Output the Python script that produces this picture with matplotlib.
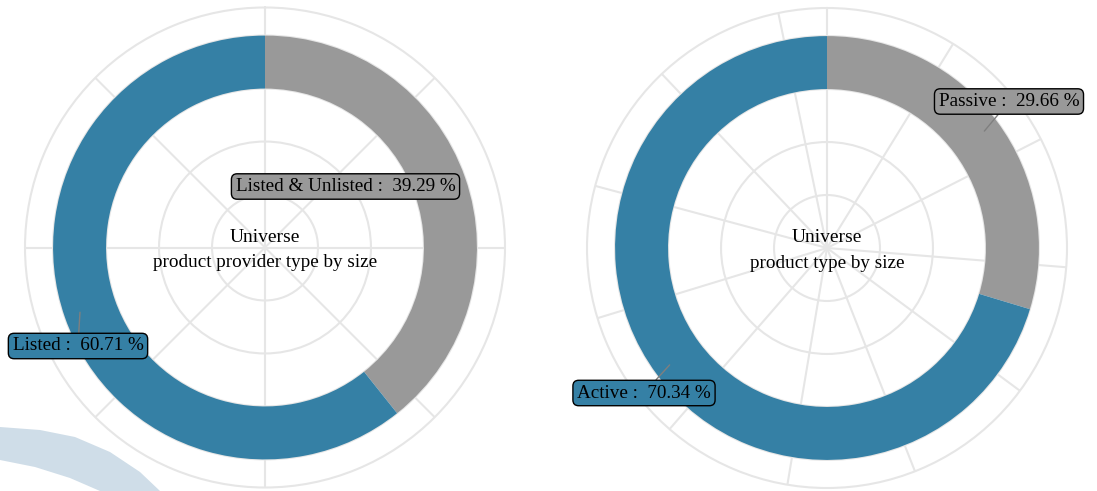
import numpy as np
import matplotlib
matplotlib.use("Agg")
import matplotlib.pyplot as plt
from matplotlib.patches import Polygon

# ---- data ----
left_labels = ["Listed & Unlisted", "Listed"]
left_values = [39.29, 60.71]
left_title = ["Universe", "product provider type by size"]

right_labels = ["Passive", "Active"]
right_values = [29.66, 70.34]
right_title = ["Universe", "product type by size"]

seg_colors = ["#999999", "#3580a5"]

left_theta_grid = [0, 45, 90, 135, 180, 225, 270, 315]
right_theta_grid = [0, 31.7, 63, 94.6, 126.5, 158.5, 189.5, 221, 253, 285, 316.5, 348.3]

W, H = 1097, 491
plt.rcParams["font.family"] = ["Liberation Serif", "DejaVu Serif"]
fig = plt.figure(figsize=(W / 100, H / 100), dpi=100)

# decorative background swoosh (bottom-left)
top_edge = [(0, 427), (40, 430), (75, 437), (110, 452), (140, 472), (160, 491)]
bot_edge = [(100, 491), (70, 478), (35, 467), (0, 460)]
pts = [(x / W, 1 - y / H) for x, y in top_edge + bot_edge]
fig.patches.append(Polygon(pts, closed=True, transform=fig.transFigure,
                           facecolor="#cfdde8", edgecolor="none", zorder=0))

GRID = "#e6e6e6"


def donut(rect, labels, values, title, theta_grid, label_pos):
    ax = fig.add_axes(rect, projection="polar")
    ax.set_facecolor("none")
    ax.set_theta_zero_location("N")
    ax.set_theta_direction(-1)
    ax.set_axisbelow(True)
    total = sum(values)
    start = 0.0
    for lab, val, col, pos in zip(labels, values, seg_colors, label_pos):
        width = val / total * 2 * np.pi
        ax.bar(start, 1.0, width=width, bottom=3.0, align="edge",
               color=col, edgecolor="none", linewidth=0)
        mid = start + width / 2
        ax.annotate(f"{lab} :  {val:.2f} %", xy=(mid, 3.7), xycoords="data",
                    xytext=(pos[0] / W, 1 - pos[1] / H), textcoords="figure fraction",
                    ha="center", va="center", fontsize=13.8,
                    bbox=dict(boxstyle="round,pad=0.22,rounding_size=0.3",
                              facecolor=col, edgecolor="black", linewidth=1),
                    arrowprops=dict(arrowstyle="-", color="#7f7f7f", lw=1,
                                    shrinkA=0, shrinkB=0),
                    zorder=5)
        start += width
    ax.set_rlim(0, 4.53)
    ax.set_rticks([1, 2, 3, 4])
    ax.set_thetagrids(theta_grid)
    ax.set_xticklabels([])
    ax.set_yticklabels([])
    ax.tick_params(length=0)
    ax.grid(True, color=GRID, linewidth=1.5)
    ax.spines["polar"].set_color(GRID)
    ax.spines["polar"].set_linewidth(1.5)
    ax.text(0.5, 0.5 + 5.5 / 480, title[0], transform=ax.transAxes,
            ha="center", va="baseline", fontsize=14)
    ax.text(0.5, 0.5 - 19.5 / 480, title[1], transform=ax.transAxes,
            ha="center", va="baseline", fontsize=13.8)
    return ax


# left: centre (265, 247.5), radius 240 px
donut([25 / W, (H - 487.5) / H, 480 / W, 480 / H],
      left_labels, left_values, left_title, left_theta_grid,
      [(345.5, 186.5), (78, 346)])
# right: centre (827, 248), radius 240 px
donut([587 / W, (H - 488) / H, 480 / W, 480 / H],
      right_labels, right_values, right_title, right_theta_grid,
      [(1009, 101.5), (644, 393)])

fig.savefig("out.png", dpi=100, facecolor="white")
